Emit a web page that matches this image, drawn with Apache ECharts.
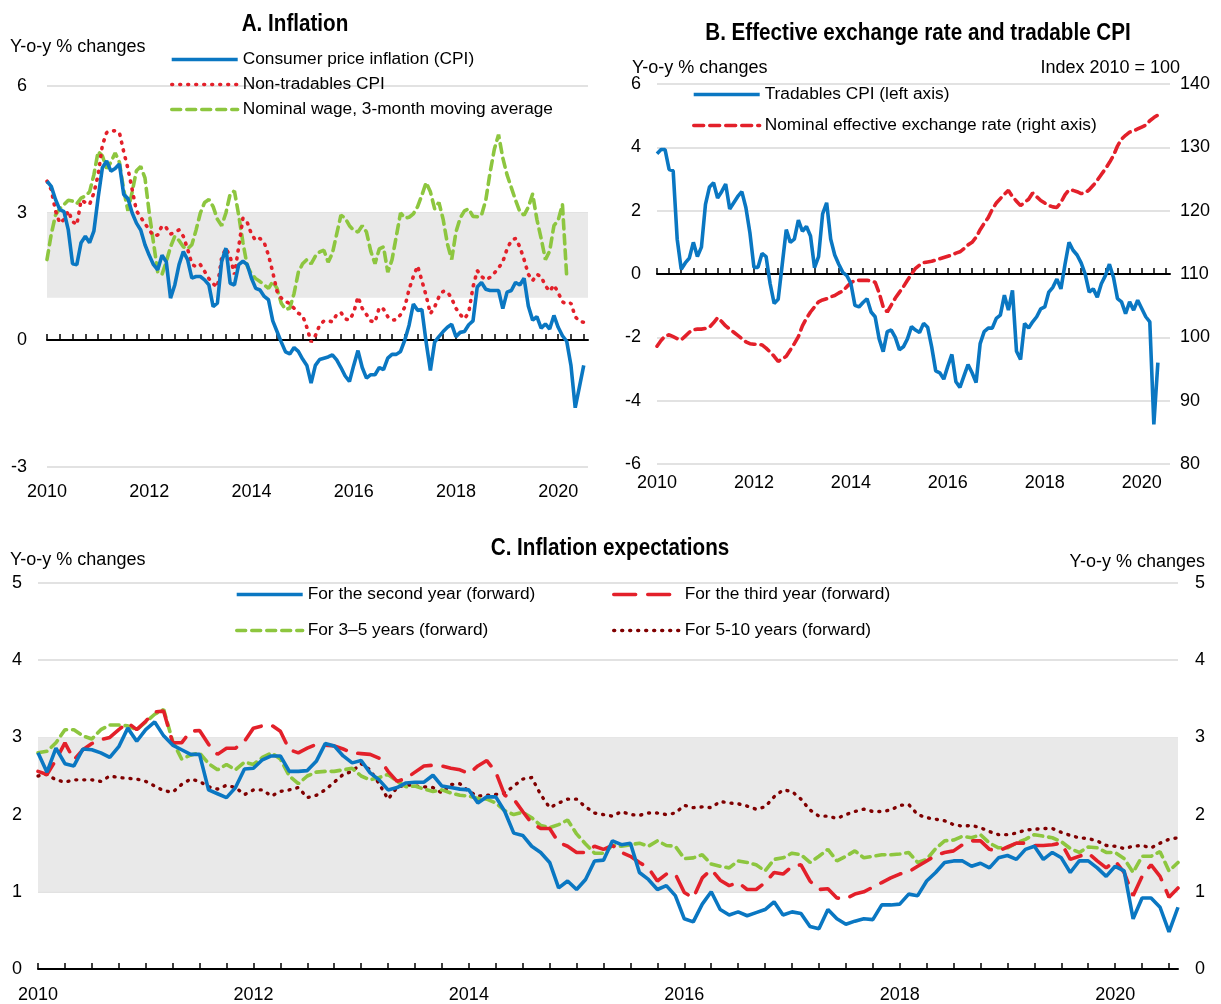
<!DOCTYPE html>
<html>
<head>
<meta charset="utf-8">
<script src="https://cdn.jsdelivr.net/npm/echarts/dist/echarts.min.js"></script>
<style>
html, body { margin: 0; padding: 0; background: #fff; }
#chart { width: 1221px; height: 1004px; }
</style>
</head>
<body>
<div id="chart"></div>
<script>
// monthly categories, Jan 2010 .. Aug 2020
var months = [];
for (var yr = 2010; yr <= 2020; yr++) {
  for (var mo = 1; mo <= 12; mo++) months.push(yr + '-' + (mo < 10 ? '0' : '') + mo);
}
months = months.slice(0, 128);

// Panel A: inflation, y-o-y % changes
var cpiA = [3.75, 3.63, 3.32, 3.08, 3.03, 2.6, 1.8, 1.78, 2.3, 2.45,
  2.3, 2.57, 3.36, 4.07, 4.23, 3.99, 4.05, 4.16, 3.44, 3.34,
  3.0, 2.76, 2.6, 2.25, 2.0, 1.78, 1.66, 2.0, 1.85, 0.99,
  1.3, 1.78, 2.09, 1.9, 1.46, 1.5, 1.5, 1.42, 1.3, 0.79,
  0.87, 1.85, 2.17, 1.34, 1.3, 1.78, 1.86, 1.78, 1.46, 1.22,
  1.18, 1.03, 0.95, 0.45, 0.2, -0.05, -0.28, -0.33, -0.18, -0.27,
  -0.45, -0.6, -1.02, -0.6, -0.46, -0.43, -0.4, -0.35, -0.47, -0.65,
  -0.85, -0.98, -0.6, -0.25, -0.65, -0.9, -0.82, -0.82, -0.65, -0.7,
  -0.43, -0.34, -0.34, -0.27, 0.0, 0.35, 0.85, 0.7, 0.72, -0.05,
  -0.72, -0.05, 0.08, 0.2, 0.3, 0.37, 0.08, 0.18, 0.2, 0.36,
  0.45, 1.25, 1.36, 1.2, 1.17, 1.17, 1.17, 0.74, 1.13, 1.17,
  1.36, 1.3, 1.46, 0.8, 0.47, 0.55, 0.28, 0.38, 0.26, 0.58,
  0.3, 0.1, -0.03, -0.6, -1.6, -1.1, -0.6];
var nonTradA = [3.75, 3.55, 3.05, 2.76, 2.85, 3.05, 2.8, 2.72, 3.3, 3.25,
  3.2, 3.47, 3.9, 4.6, 4.9, 4.94, 4.94, 4.9, 4.45, 4.05,
  3.55, 3.05, 2.9, 2.75, 2.6, 2.46, 2.48, 2.7, 2.65, 2.5,
  2.55, 2.6, 2.45, 2.15, 1.8, 1.72, 1.78, 1.62, 1.45, 1.33,
  1.25, 1.95, 2.17, 1.97, 1.55, 2.2, 2.88, 2.78, 2.5, 2.35,
  2.4, 2.3, 2.0, 1.6, 1.15, 0.99, 0.92, 0.85, 0.75, 0.63,
  0.58, 0.3, -0.05, 0.1, 0.35, 0.45, 0.45, 0.43, 0.6, 0.65,
  0.5, 0.47, 0.65, 1.02, 0.75, 0.6, 0.45, 0.42, 0.77, 0.73,
  0.55, 0.47, 0.48, 0.6, 0.78, 1.2, 1.5, 1.75, 1.4, 1.05,
  0.62, 0.78, 1.02, 1.15, 1.14, 0.98, 0.75, 0.6, 0.5, 0.65,
  1.25, 1.64, 1.5, 1.42, 1.48, 1.58, 1.7, 1.85, 2.15, 2.35,
  2.4, 2.2, 1.9, 1.55, 1.4, 1.55, 1.5, 1.28, 1.15, 1.3,
  1.12, 0.9, 0.85, 0.87, 0.55, 0.44, 0.42];
var wageA = [1.9, 2.5, 2.95, 3.1, 3.2, 3.3, 3.28, 3.22, 3.35, 3.4,
  3.5, 3.9, 4.45, 4.35, 4.05, 4.2, 4.42, 4.2, 3.55, 3.05,
  3.5, 4.0, 4.1, 3.83, 3.0, 2.3, 1.6, 1.55, 1.85, 2.2,
  2.45, 2.35, 2.2, 2.15, 2.25, 2.6, 3.0, 3.25, 3.32, 3.15,
  2.85, 2.7, 3.0, 3.45, 3.52, 2.95, 2.3, 1.75, 1.56, 1.45,
  1.38, 1.3, 1.22, 1.38, 1.22, 0.87, 0.72, 0.75, 1.1, 1.6,
  1.8, 1.9, 1.8, 1.98, 2.08, 2.12, 1.84, 2.05, 2.5, 2.95,
  2.88, 2.7, 2.59, 2.55, 2.7, 2.55, 2.1, 1.8, 2.15, 2.2,
  1.6, 1.9, 2.45, 3.0, 2.88, 2.9, 2.98, 3.15, 3.42, 3.72,
  3.5, 3.1, 3.25, 2.85, 2.27, 1.9, 2.55, 2.88, 3.05, 3.1,
  2.92, 2.91, 2.95, 3.3, 3.95, 4.5, 4.85, 4.3, 3.9, 3.6,
  3.3, 3.03, 2.95, 3.14, 3.45, 2.85, 2.4, 1.9, 2.1, 2.7,
  2.83, 3.2, 1.5];

// Panel B: tradables CPI (y-o-y %) and nominal effective exchange rate (index 2010 = 100)
var tradB = [3.8, 3.93, 3.93, 3.3, 3.26, 1.1, 0.15, 0.35, 0.5, 1.0,
  0.55, 0.85, 2.2, 2.75, 2.88, 2.4, 2.6, 2.84, 2.05, 2.25,
  2.45, 2.6, 2.1, 1.3, 0.21, 0.21, 0.65, 0.55, -0.3, -0.93,
  -0.8, 0.3, 1.4, 1.0, 1.1, 1.7, 1.35, 1.5, 1.2, 0.2,
  0.55, 1.9, 2.25, 1.1, 0.6, 0.31, 0.05, -0.05, -0.3, -0.99,
  -1.04, -0.9, -0.78, -1.2, -1.35, -2.05, -2.45, -1.82, -1.77, -2.0,
  -2.39, -2.3, -2.05, -1.66, -1.77, -1.85, -1.56, -1.68, -2.3, -3.06,
  -3.12, -3.32, -2.91, -2.54, -3.4, -3.58, -3.22, -2.86, -3.12, -3.43,
  -2.2, -1.82, -1.71, -1.71, -1.4, -1.3, -0.67, -1.14, -0.52, -2.44,
  -2.7, -1.56, -1.71, -1.51, -1.35, -1.1, -1.04, -0.57, -0.42, -0.16,
  -0.47, 0.3, 1.0, 0.75, 0.6, 0.35, 0.0, -0.57, -0.47, -0.73,
  -0.31, -0.05, 0.31, -0.1, -0.78, -0.88, -1.25, -0.88, -1.14, -0.83,
  -1.09, -1.35, -1.51, -4.75, -2.8];
var neerB = [98.6, 99.5, 100.2, 100.4, 100.1, 99.8, 99.6, 100.2, 100.8, 101.2,
  101.3, 101.3, 101.4, 101.6, 102.3, 103.1, 102.5, 101.8, 101.3, 100.8,
  100.3, 99.8, 99.3, 99.0, 98.9, 98.9, 98.8, 98.3, 97.7, 97.0,
  96.2, 96.6, 97.0, 98.0, 99.0, 100.1, 101.8, 103.0, 104.0, 104.8,
  105.6, 105.9, 106.1, 106.4, 106.6, 107.0, 107.3, 108.0, 108.6, 109.0,
  109.0, 109.0, 109.0, 108.9, 108.7, 107.0, 104.8, 104.0, 105.1, 106.2,
  107.1, 108.0, 109.0, 110.0, 110.9, 111.4, 111.8, 111.9, 112.0, 112.2,
  112.4, 112.6, 112.8, 113.0, 113.3, 113.5, 114.0, 114.6, 115.0, 115.8,
  117.0, 118.0, 118.9, 120.2, 121.2, 121.9, 122.6, 123.2, 122.2, 121.5,
  120.8, 121.3, 121.8, 122.8, 122.2, 121.6, 121.2, 120.8, 120.6, 120.5,
  121.3, 122.5, 123.3, 123.2, 123.0, 122.7, 122.8, 123.3, 124.0, 124.8,
  125.7, 126.6, 127.6, 128.7, 130.2, 131.3, 131.9, 132.4, 132.6, 132.9,
  133.2, 133.5, 134.2, 134.7, 135.1];

// Panel C: inflation expectations, y-o-y %
var secondYearC = [2.8, 2.55, 2.86, 2.66, 2.63, 2.85, 2.84, 2.8, 2.74, 2.88,
  3.12, 2.95, 3.1, 3.2, 3.02, 2.9, 2.84, 2.78, 2.78, 2.32,
  2.27, 2.22, 2.35, 2.59, 2.6, 2.71, 2.76, 2.76, 2.56, 2.56,
  2.57, 2.69, 2.92, 2.89, 2.76, 2.67, 2.7, 2.54, 2.45, 2.32,
  2.35, 2.41, 2.42, 2.42, 2.51, 2.37, 2.35, 2.33, 2.32, 2.15,
  2.23, 2.23, 2.04, 1.76, 1.73, 1.59, 1.51, 1.38, 1.05, 1.14,
  1.03, 1.16, 1.4, 1.41, 1.66, 1.61, 1.63, 1.25, 1.16, 1.03,
  1.08, 0.95, 0.65, 0.61, 0.84, 1.0, 0.77, 0.7, 0.74, 0.69,
  0.73, 0.77, 0.87, 0.7, 0.74, 0.72, 0.55, 0.52, 0.77, 0.65,
  0.58, 0.62, 0.65, 0.64, 0.83, 0.83, 0.84, 0.97, 0.95, 1.14,
  1.25, 1.38, 1.4, 1.4, 1.33, 1.37, 1.31, 1.44, 1.47, 1.42,
  1.55, 1.59, 1.42, 1.51, 1.44, 1.25, 1.4, 1.4, 1.31, 1.2,
  1.33, 1.27, 0.65, 0.92, 0.92, 0.8, 0.48, 0.8];
var thirdYearC = [2.56, 2.52, 2.71, 2.93, 2.71, 2.84, 2.92, 2.97, 3.0, 3.1,
  3.19, 3.1, 3.21, 3.33, 3.34, 2.93, 2.93, 3.08, 3.09, 2.91,
  2.78, 2.86, 2.86, 2.95, 3.12, 3.15, 3.16, 3.08, 2.84, 2.8,
  2.86, 2.91, 2.9, 2.89, 2.85, 2.8, 2.79, 2.78, 2.73, 2.56,
  2.43, 2.47, 2.55, 2.63, 2.64, 2.63, 2.6, 2.58, 2.53, 2.63,
  2.7, 2.55, 2.25, 2.2, 2.04, 1.89, 1.82, 1.82, 1.64, 1.59,
  1.51, 1.51, 1.59, 1.55, 1.6, 1.51, 1.46, 1.38, 1.31, 1.14,
  1.23, 1.23, 0.99, 0.92, 1.18, 1.29, 1.15, 1.08, 1.12, 1.03,
  1.03, 1.12, 1.25, 1.23, 1.33, 1.35, 1.14, 1.03, 1.04, 0.92,
  0.91, 0.97, 1.0, 1.06, 1.12, 1.18, 1.23, 1.26, 1.33, 1.4,
  1.47, 1.51, 1.53, 1.61, 1.66, 1.66, 1.55, 1.53, 1.58, 1.63,
  1.63, 1.6, 1.6, 1.61, 1.63, 1.42, 1.46, 1.5, 1.4, 1.31,
  1.4, 1.25, 0.95, 1.2, 1.35, 1.2, 0.93, 1.05];
var threeFiveC = [2.8, 2.82, 2.93, 3.1, 3.1, 3.02, 2.98, 3.1, 3.16, 3.16,
  3.15, 3.1, 3.2, 3.3, 3.36, 2.95, 2.72, 2.77, 2.8, 2.66,
  2.58, 2.65, 2.58, 2.68, 2.65, 2.74, 2.8, 2.72, 2.5, 2.4,
  2.5, 2.55, 2.56, 2.56, 2.58, 2.6, 2.5, 2.45, 2.48, 2.52,
  2.43, 2.36, 2.37, 2.33, 2.3, 2.32, 2.28, 2.25, 2.24, 2.21,
  2.2, 2.15, 2.05, 2.0, 2.03, 1.96, 1.86, 1.83, 1.87, 1.93,
  1.75, 1.62, 1.5, 1.5, 1.6, 1.59, 1.61, 1.63, 1.59, 1.66,
  1.6, 1.59, 1.43, 1.44, 1.48, 1.36, 1.33, 1.31, 1.4, 1.38,
  1.35, 1.27, 1.42, 1.44, 1.5, 1.48, 1.38, 1.46, 1.55, 1.4,
  1.46, 1.53, 1.44, 1.46, 1.48, 1.48, 1.49, 1.51, 1.38, 1.42,
  1.56, 1.66, 1.67, 1.72, 1.7, 1.74, 1.63, 1.57, 1.57, 1.63,
  1.68, 1.74, 1.72, 1.7, 1.65, 1.56, 1.51, 1.58, 1.57, 1.51,
  1.51, 1.43, 1.25, 1.46, 1.46, 1.52, 1.27, 1.38];
var fiveTenC = [2.5, 2.52, 2.45, 2.42, 2.45, 2.45, 2.45, 2.43, 2.5, 2.48,
  2.47, 2.46, 2.43, 2.37, 2.31, 2.29, 2.39, 2.46, 2.43, 2.36,
  2.33, 2.38, 2.35, 2.26, 2.32, 2.32, 2.24, 2.3, 2.32, 2.35,
  2.22, 2.25, 2.32, 2.42, 2.52, 2.56, 2.66, 2.58, 2.4, 2.2,
  2.35, 2.39, 2.37, 2.36, 2.35, 2.28, 2.39, 2.4, 2.3, 2.24,
  2.25, 2.26, 2.28, 2.37, 2.46, 2.48, 2.26, 2.09, 2.15, 2.2,
  2.2, 2.1, 2.02, 2.0, 1.98, 2.04, 2.0, 1.99, 2.02, 2.02,
  2.0, 2.02, 2.12, 2.09, 2.1, 2.09, 2.17, 2.15, 2.14, 2.11,
  2.07, 2.1, 2.23, 2.32, 2.3, 2.2, 2.06, 1.98, 1.98, 1.95,
  2.0, 2.04, 2.07, 2.04, 2.04, 2.06, 2.12, 2.13, 2.0, 1.96,
  1.94, 1.92, 1.87, 1.85, 1.86, 1.83, 1.78, 1.74, 1.74, 1.76,
  1.8, 1.81, 1.82, 1.82, 1.77, 1.73, 1.7, 1.69, 1.66, 1.6,
  1.59, 1.56, 1.59, 1.6, 1.57, 1.63, 1.68, 1.7];

var FONT = "'Liberation Sans Narrow', 'Arial Narrow', 'Liberation Sans', sans-serif";
var BLUE = '#0a77c2';
var RED = '#e3202a';
var GREEN = '#8dc63f';
var DARKRED = '#800000';
var GRID_GRAY = '#d9d9d9';
var BAND = '#e9e9e9';

function isYear(i) { return i % 24 === 0; }
function isQuarter(i) { return i % 3 === 0; }
function yearLabel(v) { return v.slice(0, 4); }

function labelAxis(grid, margin) {
  return {
    type: 'category', gridIndex: grid, data: months, boundaryGap: false,
    position: 'bottom',
    axisLine: { show: false }, axisTick: { show: false },
    axisLabel: { interval: function (i) { return isYear(i); }, formatter: yearLabel,
      margin: margin, fontSize: 18, fontFamily: FONT, color: '#000' },
    splitLine: { show: false }
  };
}
function zeroAxis(grid, yIdx) {
  return {
    type: 'category', gridIndex: grid, data: months, boundaryGap: false,
    position: 'top',
    axisLine: { show: true, onZero: true, onZeroAxisIndex: yIdx, lineStyle: { color: '#000', width: 2 } },
    axisTick: { show: true, interval: function (i) { return isQuarter(i); }, length: 6, lineStyle: { color: '#000', width: 1.5 } },
    axisLabel: { show: false },
    splitLine: { show: false }
  };
}
function valueAxis(grid, pos, min, max, step, margin, gridLines) {
  return {
    type: 'value', gridIndex: grid, position: pos, min: min, max: max, interval: step,
    axisLine: { show: false }, axisTick: { show: false },
    axisLabel: { margin: margin, fontSize: 18, fontFamily: FONT, color: '#000' },
    splitLine: { show: gridLines, lineStyle: { color: GRID_GRAY, width: 1.5 } }
  };
}
function lineSeries(name, data, x, y, color, width, dash, z) {
  return {
    name: name, type: 'line', xAxisIndex: x, yAxisIndex: y, data: data,
    symbol: 'none', z: z, animation: false,
    lineStyle: { color: color, width: width, type: dash, cap: dash === 'solid' ? 'butt' : 'round' },
    itemStyle: { color: color }
  };
}
var band = { silent: true, itemStyle: { color: BAND }, data: [[{ yAxis: 1 }, { yAxis: 3 }]] };

function legendBox(left, top, gap, names) {
  return {
    left: left, top: top, orient: 'vertical', padding: 0,
    itemWidth: 66, itemHeight: 14, itemGap: gap,
    data: names, selectedMode: false,
    itemStyle: { opacity: 0 },
    lineStyle: { width: 3.4 },
    textStyle: { fontSize: 17.3, fontFamily: FONT, color: '#000' }
  };
}
function label(text, x, y, align, size, bold, sx) {
  return { type: 'text', x: x, y: y, z: 50, scaleX: sx || 1,
    style: { text: text, fontSize: size, fontWeight: bold ? 'bold' : 'normal', fontFamily: FONT,
      fill: '#000', align: align, verticalAlign: 'middle' } };
}

var cpiSeries = lineSeries('Consumer price inflation (CPI)', cpiA, 0, 0, BLUE, 3.6, 'solid', 4);
cpiSeries.markArea = band;
var tradSeries = lineSeries('Tradables CPI (left axis)', tradB, 2, 1, BLUE, 3.6, 'solid', 4);
var secondSeries = lineSeries('For the second year (forward)', secondYearC, 4, 3, BLUE, 3.6, 'solid', 4);
secondSeries.markArea = band;

var chart = echarts.init(document.getElementById('chart'));
chart.setOption({
  animation: false,
  backgroundColor: '#fff',
  grid: [
    { left: 47, top: 86, width: 541, height: 381, outerBoundsMode: 'none' },
    { left: 657, top: 84, width: 513, height: 380, outerBoundsMode: 'none' },
    { left: 38, top: 583, width: 1140, height: 386, outerBoundsMode: 'none' }
  ],
  xAxis: [
    labelAxis(0, 16),
    zeroAxis(0, 0),
    labelAxis(1, 10),
    zeroAxis(1, 1),
    {
      type: 'category', gridIndex: 2, data: months, boundaryGap: false, position: 'bottom',
      axisLine: { show: true, lineStyle: { color: '#000', width: 2 } },
      axisTick: { show: true, inside: true, interval: function (i) { return isQuarter(i); }, length: 6, lineStyle: { color: '#000', width: 1.5 } },
      axisLabel: { interval: function (i) { return isYear(i); }, formatter: yearLabel, margin: 17, fontSize: 18, fontFamily: FONT, color: '#000' }
    }
  ],
  yAxis: [
    valueAxis(0, 'left', -3, 6, 3, 20, true),
    valueAxis(1, 'left', -6, 6, 2, 16, true),
    valueAxis(1, 'right', 80, 140, 10, 10, false),
    valueAxis(2, 'left', 0, 5, 1, 16, true),
    valueAxis(2, 'right', 0, 5, 1, 17, false)
  ],
  legend: [
    legendBox(170, 51, 8, ['Consumer price inflation (CPI)', 'Non-tradables CPI', 'Nominal wage, 3-month moving average']),
    legendBox(692, 86, 14, ['Tradables CPI (left axis)', 'Nominal effective exchange rate (right axis)']),
    legendBox(235, 586, 19, ['For the second year (forward)', 'For 3–5 years (forward)']),
    legendBox(612, 586, 19, ['For the third year (forward)', 'For 5-10 years (forward)'])
  ],
  graphic: [
    label('A. Inflation', 295, 24, 'center', 24, true, 0.86),
    label('B. Effective exchange rate and tradable CPI', 918, 33, 'center', 24, true, 0.86),
    label('C. Inflation expectations', 610, 548, 'center', 24, true, 0.86),
    label('Y-o-y % changes', 10, 47, 'left', 18, false),
    label('Y-o-y % changes', 632, 68, 'left', 18, false),
    label('Index 2010 = 100', 1180, 68, 'right', 18, false),
    label('Y-o-y % changes', 10, 560, 'left', 18, false),
    label('Y-o-y % changes', 1205, 562, 'right', 18, false)
  ],
  series: [
    lineSeries('Nominal wage, 3-month moving average', wageA, 0, 0, GREEN, 3.6, [9, 6], 2),
    lineSeries('Non-tradables CPI', nonTradA, 0, 0, RED, 3.6, [1, 7], 3),
    cpiSeries,
    lineSeries('Nominal effective exchange rate (right axis)', neerB, 2, 2, RED, 3.6, [10, 6], 3),
    tradSeries,
    lineSeries('For 5-10 years (forward)', fiveTenC, 4, 3, DARKRED, 3.4, [1, 7], 2),
    lineSeries('For 3–5 years (forward)', threeFiveC, 4, 3, GREEN, 3.6, [9, 6], 2),
    lineSeries('For the third year (forward)', thirdYearC, 4, 3, RED, 3.6, [22, 12], 3),
    secondSeries
  ]
});
</script>
</body>
</html>
